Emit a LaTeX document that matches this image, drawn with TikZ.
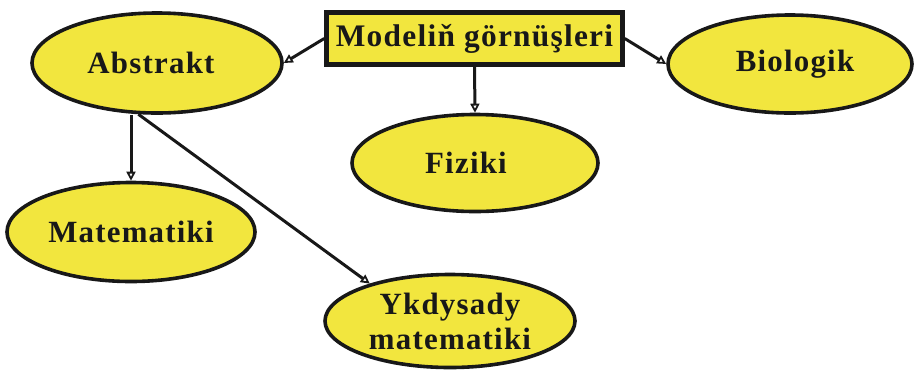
\documentclass[tikz,border=0pt]{standalone}
\usepackage{fontspec}
\setmainfont{Liberation Serif}[LetterSpace=4]
\usetikzlibrary{shapes.geometric,arrows.meta}
\definecolor{fillyel}{RGB}{242,230,62}
\definecolor{inkdark}{RGB}{24,24,24}
\tikzset{
  oval/.style={ellipse, draw=inkdark, fill=fillyel, line width=3.6bp, inner sep=0pt,
    text=inkdark, font=\bfseries\fontsize{31}{35}\selectfont, align=center},
  topbox/.style={rectangle, draw=inkdark, fill=fillyel, line width=4.5bp, inner sep=0pt,
    minimum width=296bp, minimum height=52bp, text=inkdark,
    font=\bfseries\fontsize{31.5}{35}\selectfont},
  conn/.style={draw=inkdark, line width=3bp, -{Triangle[open, length=9bp, width=9bp, line width=1.8bp]}}
}
\begin{document}
\begin{tikzpicture}[x=1bp,y=-1bp]
\useasboundingbox (0,0) rectangle (915,369);
\node[topbox] (box) at (474.5,38.5) {Modeliň görnüşleri};
\node[oval, minimum width=250bp, minimum height=100bp] (abs) at (157,63) {Abstrakt\hspace{12bp}};
\node[oval, minimum width=244bp, minimum height=98bp] (bio) at (790,64) {\hspace{10bp}Biologik};
\node[oval, minimum width=246bp, minimum height=97bp] (fiz) at (475,163) {\raisebox{-7bp}{Fiziki}\hspace{18bp}};
\node[oval, minimum width=248bp, minimum height=99bp] (mat) at (131,232) {Matematiki};
\node[oval, minimum width=250bp, minimum height=93bp] (yk) at (450,321) {Ykdysady\\matematiki};
\draw[conn] (box.west) -- (abs.east);
\draw[conn] (box.east) -- (bio.west);
\draw[conn] (box.south) -- (fiz.north);
\draw[conn] (abs.south -| mat.north) -- (mat.north);
\draw[conn] (abs.250) -- (yk.155);
\end{tikzpicture}
\end{document}
